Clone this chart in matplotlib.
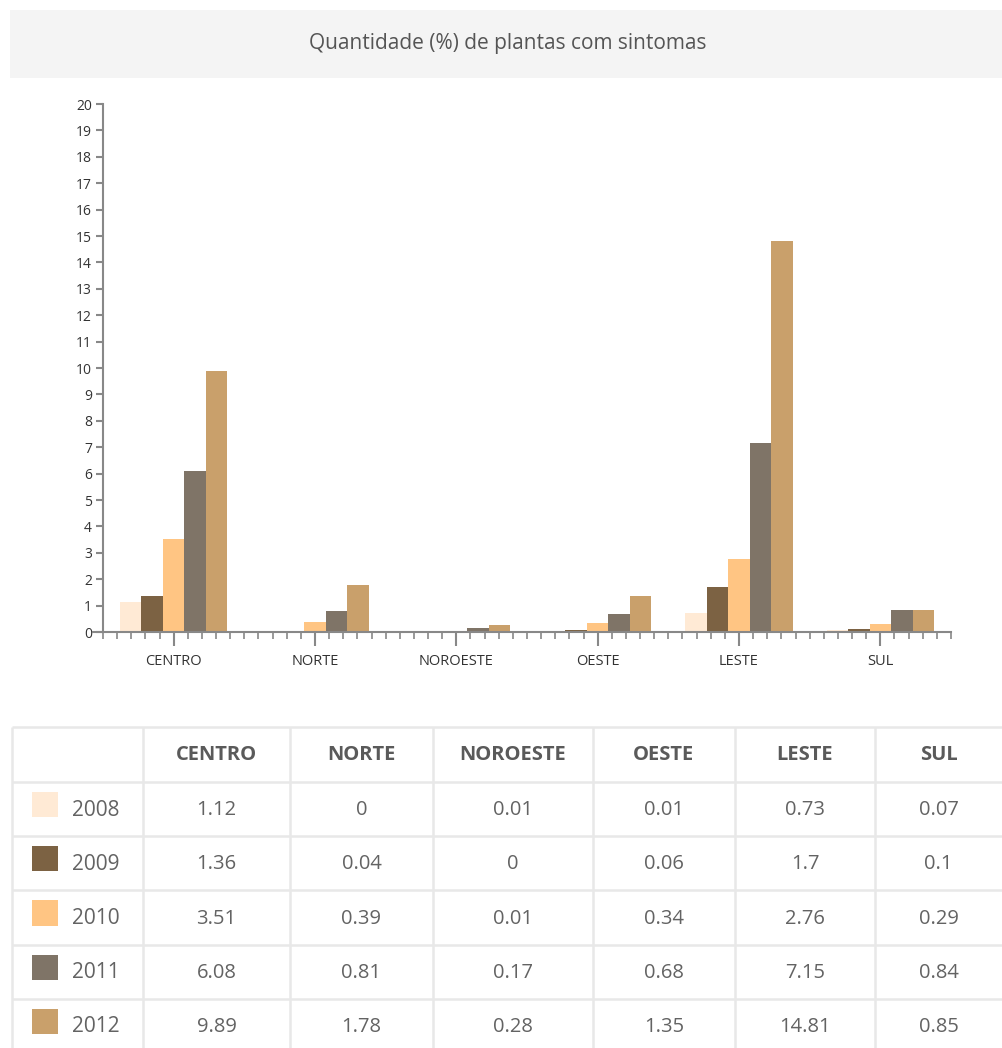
import matplotlib.pyplot as plt
import numpy as np
from matplotlib.patches import Rectangle

W, H = 1002, 1048

title = "Quantidade (%) de plantas com sintomas"
regions = ["CENTRO", "NORTE", "NOROESTE", "OESTE", "LESTE", "SUL"]
years = ["2008", "2009", "2010", "2011", "2012"]
colors = ["#ffead5", "#7c6243", "#ffc583", "#7f7467", "#c9a06b"]

v2008 = [1.12, 0, 0.01, 0.01, 0.73, 0.07]
v2009 = [1.36, 0.04, 0, 0.06, 1.7, 0.1]
v2010 = [3.51, 0.39, 0.01, 0.34, 2.76, 0.29]
v2011 = [6.08, 0.81, 0.17, 0.68, 7.15, 0.84]
v2012 = [9.89, 1.78, 0.28, 1.35, 14.81, 0.85]
series = [v2008, v2009, v2010, v2011, v2012]

fig = plt.figure(figsize=(W / 100, H / 100), dpi=100)

# overlay axes in pixel coordinates for title bar and table
bg = fig.add_axes([0, 0, 1, 1])
bg.set_xlim(0, W)
bg.set_ylim(H, 0)
bg.axis("off")

bg.add_patch(Rectangle((10, 10), W - 10, 68, facecolor="#f4f4f4", edgecolor="none"))
bg.text(508, 44, title, ha="center", va="center", fontsize=15,
        color="#555555", family="Open Sans")

# chart
px = lambda x: x / W
py = lambda y: 1 - y / H
ax = fig.add_axes([px(93), py(632), px(951 - 93), py(104) - py(632)])

n = len(years)
bw = 0.152
xc = np.arange(len(regions)) + 0.5
for j, (vals, col) in enumerate(zip(series, colors)):
    ax.bar(xc + (j - (n - 1) / 2) * bw, vals, width=bw, color=col, edgecolor="none")

ax.set_xlim(-10 / 141.3, 6)
ax.set_ylim(0, 20)
for s in ["top", "right"]:
    ax.spines[s].set_visible(False)
ax.spines["left"].set_position(("data", 0))
for s in ["left", "bottom"]:
    ax.spines[s].set_color("#888888")
    ax.spines[s].set_linewidth(1.5)

ax.set_yticks(range(0, 21))
ax.set_xticks(xc)
ax.set_xticklabels(regions, family="Open Sans", fontsize=10.5, color="#333333")
ax.set_xticks(np.arange(0, 6.01, 0.1), minor=True)
ax.tick_params(axis="x", which="major", length=10, width=1.5, color="#888888", pad=6)
ax.tick_params(axis="x", which="minor", length=5, width=1.2, color="#888888")
ax.tick_params(axis="y", length=5, width=1.5, color="#888888", labelsize=10,
               labelcolor="#333333", pad=3)
for lab in ax.get_yticklabels():
    lab.set_family("Open Sans")
    lab.set_fontweight("medium")

# table
col_x = [12, 143, 290, 433, 593, 735, 875, W]
row_y = [727, 782, 836, 890, 945, 999, 1053]
grid = "#e8e8e8"
for y in row_y[:-1]:
    bg.plot([col_x[0], W], [y, y], color=grid, lw=1.8, solid_capstyle="butt")
for x in col_x[:-1]:
    bg.plot([x, x], [row_y[0], H], color=grid, lw=1.8, solid_capstyle="butt")

for i, reg in enumerate(regions):
    cx = (col_x[i + 1] + col_x[i + 2]) / 2
    bg.text(cx, (row_y[0] + row_y[1]) / 2 + 1, reg, ha="center", va="center",
            fontsize=14.5, fontweight="bold", color="#5a5a5a", family="Open Sans")

for r, (yr, vals, col) in enumerate(zip(years, series, colors)):
    cy = (row_y[r + 1] + row_y[r + 2]) / 2
    bg.add_patch(Rectangle((32, cy - 17.5), 26, 25.5, facecolor=col, edgecolor="none"))
    bg.text(72, cy + 1, yr, ha="left", va="center", fontsize=15, color="#636363",
            family="Open Sans")
    for i, v in enumerate(vals):
        cx = (col_x[i + 1] + col_x[i + 2]) / 2
        bg.text(cx, cy + 1, f"{v:g}", ha="center", va="center", fontsize=14.5,
                color="#636363", family="Open Sans")

fig.savefig("out.png", dpi=100)
